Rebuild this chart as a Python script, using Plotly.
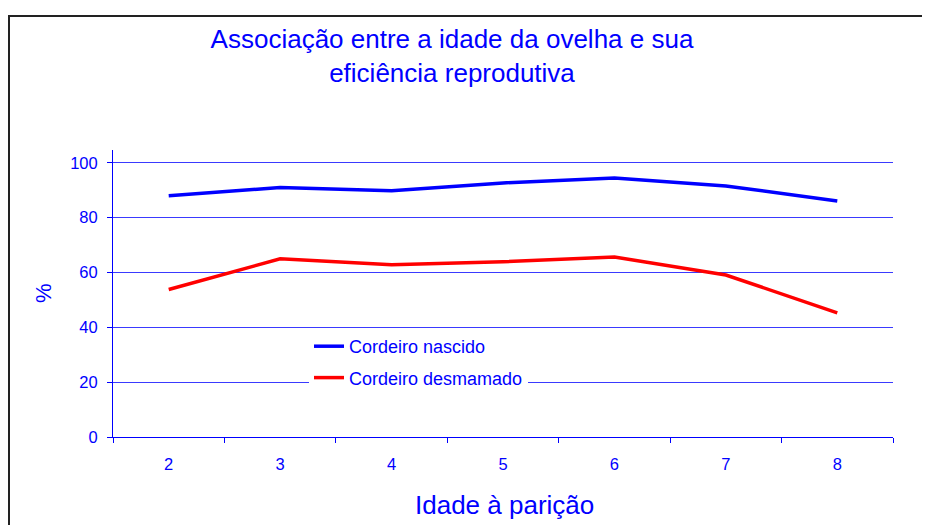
import plotly.graph_objects as go

idade = ["2", "3", "4", "5", "6", "7", "8"]
nascido = [88.0, 91.0, 89.8, 92.7, 94.5, 91.6, 86.1]
desmamado = [53.8, 65.0, 62.8, 63.9, 65.7, 59.1, 45.3]
y_ticks = [0, 20, 40, 60, 80, 100]

BLUE = "#0000ff"
FONT = "Liberation Sans, Arial, sans-serif"

fig = go.Figure()
fig.add_trace(go.Scatter(x=idade, y=nascido, mode="lines", name="Cordeiro nascido",
                         line=dict(color="#0000ff", width=3.5), legendgroup="a"))
fig.add_trace(go.Scatter(x=idade, y=desmamado, mode="lines", name="Cordeiro desmamado",
                         line=dict(color="#ff0000", width=3.5), legendgroup="b"))

# page body has an 8px margin, so the figure is sized/positioned accordingly
OFF = 8
W, H = 930 - OFF, 525 - OFF
l, t = 113 - OFF, 150 - OFF
r = W - (893 - OFF)
b = H - (437 - OFF)
pw, ph = W - l - r, H - t - b

def px_x(xs):
    return (xs - OFF - l) / pw

def px_y(ys):
    return (H - b - (ys - OFF)) / ph

fig.update_layout(
    width=W, height=H,
    margin=dict(l=l, r=r, t=t, b=b),
    paper_bgcolor="white", plot_bgcolor="white",
    font=dict(family=FONT, color=BLUE, size=16),
    title=dict(text="Associação entre a idade da ovelha e sua<br>eficiência reprodutiva",
               x=(452 - OFF) / W, xanchor="center", y=1 - 40 / H, yanchor="top",
               font=dict(size=26, color=BLUE, family=FONT)),
    showlegend=True,
    legend=dict(x=px_x(309), y=px_y(328), xanchor="left", yanchor="top",
                bgcolor="white", borderwidth=0, font=dict(size=18, color=BLUE),
                traceorder="grouped", tracegroupgap=5),
    xaxis=dict(type="category", range=[-0.5, 6.5], tickson="boundaries", ticks="outside",
               ticklen=5, tickcolor=BLUE, showline=True, linecolor=BLUE, linewidth=1,
               showgrid=False, zeroline=False, ticklabelstandoff=12,
               tickfont=dict(size=16.5, color=BLUE)),
    yaxis=dict(range=[0, 104.7], tickvals=y_ticks, ticks="outside", ticklen=5,
               tickcolor=BLUE, showline=True, linecolor=BLUE, linewidth=1,
               showgrid=True, gridcolor="#3a3aff", gridwidth=1, zeroline=False,
               ticklabelstandoff=6, tickfont=dict(size=16.5, color=BLUE)),
    annotations=[
        dict(text="%", x=px_x(43), y=px_y(293), xref="paper", yref="paper",
             xanchor="center", yanchor="middle",
             showarrow=False, textangle=-90, font=dict(size=22, color=BLUE)),
        dict(text="Idade à parição", x=px_x(504), y=px_y(505), xref="paper", yref="paper",
             xanchor="center", yanchor="middle",
             showarrow=False, font=dict(size=26, color=BLUE)),
    ],
    shapes=[
        dict(type="rect", xref="paper", yref="paper",
             x0=px_x(9), x1=px_x(1000), y0=px_y(600), y1=px_y(16),
             line=dict(color="#222222", width=2), fillcolor="rgba(0,0,0,0)", layer="below"),
    ],
)

fig.write_html("out.html")
